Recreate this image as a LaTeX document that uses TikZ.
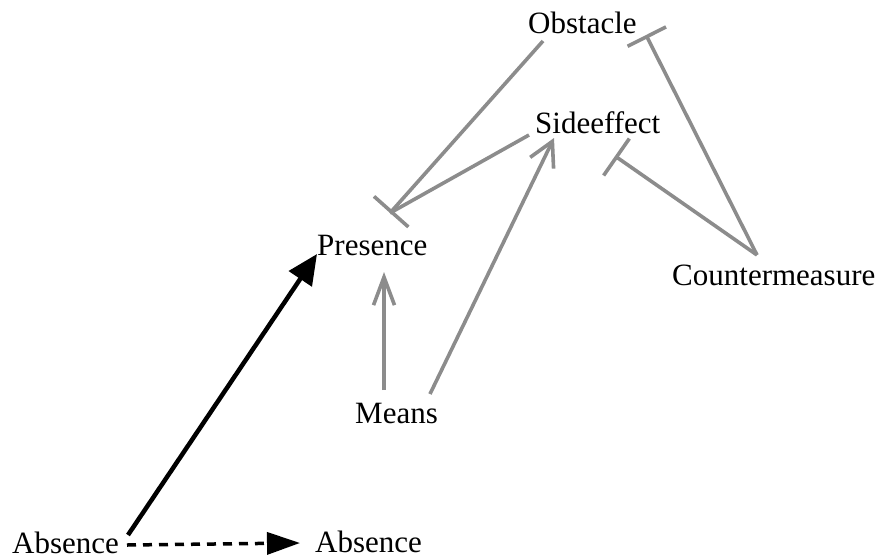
\documentclass[tikz,border=0pt]{standalone}
\usepackage{fontspec}
\setmainfont{Liberation Serif}
\usetikzlibrary{arrows.meta,calc}
\definecolor{edgegray}{RGB}{140,140,140}
\begin{document}
\begin{tikzpicture}[x=1pt,y=-1pt,
  lbl/.style={anchor=base west,inner sep=0pt,font=\fontsize{31}{36}\selectfont},
  gline/.style={draw=edgegray,line width=3.6pt},
  inhib/.style={gline,-{Bar[width=#1,line width=3.6pt]}},
  activ/.style={gline,-{Straight Barb[length=24pt,width=#1,line width=3.6pt]}},
  causal/.style={draw=black,line width=4.5pt,-{Triangle[length=30pt,width=27pt]}},
  dashlink/.style={draw=black,line width=3.5pt,dash pattern=on 9pt off 7pt,-{Triangle[length=33pt,width=22pt]}}
]
\useasboundingbox (0,0) rectangle (879,558);
\node[lbl] (obst) at (528,33) {Obstacle};
\node[lbl] (side) at (535,133) {Sideeffect};
\node[lbl] (pres) at (317,255) {Presence};
\node[lbl] (counter) at (672,285) {Countermeasure};
\node[lbl] (means) at (355,423) {Means};
\node[lbl] (absL) at (12,553) {Absence};
\node[lbl] (absR) at (315,552) {Absence};

\draw[inhib=46pt] ($(obst.base west)+(15,8)$) -- ($(pres.base west)+(73,-42)$);
\draw[gline] ($(side.base west)+(-6,2)$) -- ($(pres.base west)+(73,-42)$);
\draw[gline,-{Straight Barb[length=28pt,width=21pt,line width=3.6pt]}] ($(means.base west)+(29,-33)$) -- ($(pres.base west)+(67,17)$);
\draw[activ=26pt] ($(means.base west)+(75,-29)$) -- ($(side.base west)+(19,5)$);
\draw[inhib=43pt] ($(counter.base west)+(85,-30)$) -- ($(obst.base west)+(118,2)$);
\draw[inhib=45pt] ($(counter.base west)+(85,-30)$) -- ($(side.base west)+(80,23)$);
\draw[causal] ($(absL.base west)+(116,-18)$) -- ($(pres.base west)+(0,-1)$);
\draw[dashlink] ($(absL.base west)+(115,-8)$) -- ($(absR.base west)+(-15,-9)$);
\end{tikzpicture}
\end{document}
